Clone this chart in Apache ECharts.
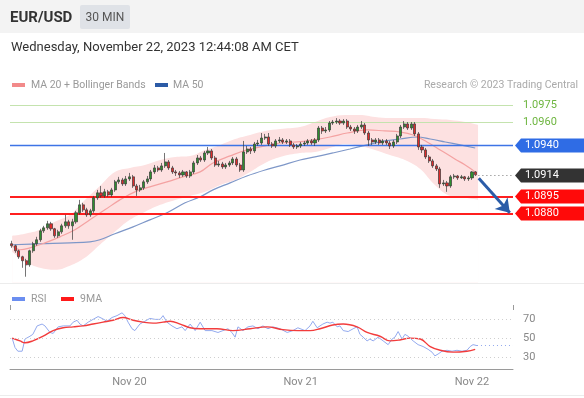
<!DOCTYPE html>
<html>
<head>
<meta charset="utf-8">
<script src="https://cdn.jsdelivr.net/npm/echarts@6/dist/echarts.min.js"></script>
<style>
  html, body { margin: 0; padding: 0; background: #fff; }
  #chart { width: 584px; height: 398px; }
</style>
</head>
<body>
<div id="chart"></div>
<script>
// 30 min candles, [open, close, low, high]
var candles = [
  [1.08532,1.08514,1.08496,1.08558],[1.08514,1.0847,1.08452,1.08523],[1.0847,1.08417,1.08399,1.08479],
  [1.08417,1.08382,1.0832,1.08426],[1.08382,1.08346,1.08241,1.08399],[1.08346,1.0847,1.08329,1.08479],
  [1.0847,1.08532,1.08452,1.08549],[1.08532,1.08567,1.08514,1.08593],[1.08567,1.08646,1.08549,1.08664],
  [1.08646,1.08672,1.08628,1.0869],[1.08672,1.08708,1.08655,1.08734],[1.08708,1.08664,1.08646,1.08725],
  [1.08664,1.08602,1.08584,1.08672],[1.08602,1.08637,1.08584,1.08655],[1.08637,1.0869,1.0862,1.08708],
  [1.0869,1.08725,1.08672,1.08787],[1.08725,1.0869,1.08664,1.08743],[1.0869,1.08725,1.08567,1.08752],
  [1.08725,1.08805,1.08708,1.08822],[1.08805,1.08875,1.08787,1.08919],[1.08875,1.08831,1.08813,1.08893],
  [1.08831,1.08787,1.08769,1.08849],[1.08787,1.08822,1.08769,1.0884],[1.08822,1.08937,1.08805,1.08954],
  [1.08937,1.08981,1.08919,1.09007],[1.08981,1.08954,1.08937,1.09042],[1.08954,1.0899,1.08937,1.09016],
  [1.0899,1.08963,1.08946,1.09007],[1.08963,1.09007,1.08946,1.09025],[1.09007,1.09078,1.0899,1.09095],
  [1.09078,1.09095,1.0906,1.09122],[1.09095,1.0906,1.09042,1.09113],[1.0906,1.09104,1.09042,1.0913],
  [1.09104,1.09122,1.09086,1.09157],[1.09122,1.09042,1.09025,1.09139],[1.09042,1.09007,1.08954,1.0906],
  [1.09007,1.09025,1.0899,1.09051],[1.09025,1.09078,1.09007,1.09095],[1.09078,1.09104,1.0906,1.0913],
  [1.09104,1.09166,1.09086,1.09183],[1.09166,1.09201,1.09148,1.09227],[1.09201,1.09183,1.09166,1.09219],
  [1.09183,1.09219,1.09166,1.09245],[1.09219,1.09254,1.09201,1.09333],[1.09254,1.09201,1.09183,1.09271],
  [1.09201,1.09166,1.09148,1.09219],[1.09166,1.09157,1.0913,1.09183],[1.09157,1.09139,1.09113,1.09174],
  [1.09139,1.09166,1.09122,1.09183],[1.09166,1.0913,1.09113,1.09174],[1.0913,1.09166,1.09113,1.09183],
  [1.09166,1.09245,1.09148,1.09263],[1.09245,1.09289,1.09227,1.09315],[1.09289,1.09271,1.09254,1.09307],
  [1.09271,1.09333,1.09254,1.09351],[1.09333,1.09351,1.09315,1.09386],[1.09351,1.09289,1.09271,1.09368],
  [1.09289,1.09227,1.0921,1.09307],[1.09227,1.09236,1.0921,1.09263],[1.09236,1.0921,1.09192,1.09254],
  [1.0921,1.09227,1.09192,1.09245],[1.09227,1.09245,1.0921,1.09263],[1.09245,1.0928,1.09227,1.09298],
  [1.0928,1.09227,1.0921,1.09298],[1.09227,1.09183,1.09166,1.09245],[1.09183,1.09342,1.09166,1.09439],
  [1.09342,1.09368,1.09324,1.09395],[1.09368,1.09351,1.09324,1.09386],[1.09351,1.09412,1.09333,1.0943],
  [1.09412,1.09421,1.09395,1.09448],[1.09421,1.09465,1.09404,1.09509],[1.09465,1.09474,1.09448,1.09501],
  [1.09474,1.09412,1.09395,1.09509],[1.09412,1.09395,1.09377,1.0943],[1.09395,1.09439,1.09377,1.09456],
  [1.09439,1.09448,1.09421,1.09474],[1.09448,1.0943,1.09412,1.09465],[1.0943,1.09439,1.09412,1.09456],
  [1.09439,1.09404,1.09386,1.09456],[1.09404,1.09386,1.09368,1.09421],[1.09386,1.09395,1.09368,1.09412],
  [1.09395,1.09412,1.09377,1.0943],[1.09412,1.09421,1.09395,1.09439],[1.09421,1.09439,1.09404,1.09456],
  [1.09439,1.09421,1.09404,1.09456],[1.09421,1.09448,1.09395,1.09465],[1.09448,1.09553,1.0943,1.09571],
  [1.09553,1.09527,1.09501,1.09571],[1.09527,1.09536,1.09509,1.09562],[1.09536,1.09597,1.09518,1.09615],
  [1.09597,1.09606,1.0958,1.09624],[1.09606,1.09615,1.09589,1.09641],[1.09615,1.09597,1.0958,1.09632],
  [1.09597,1.09615,1.0958,1.09632],[1.09615,1.09562,1.09545,1.09632],[1.09562,1.09545,1.09527,1.0958],
  [1.09545,1.09527,1.09501,1.09562],[1.09527,1.09562,1.09509,1.0958],[1.09562,1.0958,1.09545,1.09615],
  [1.0958,1.09509,1.09492,1.09597],[1.09509,1.09448,1.09395,1.09527],[1.09448,1.0943,1.09404,1.09465],
  [1.0943,1.09448,1.09412,1.09465],[1.09448,1.09421,1.09404,1.09465],[1.09421,1.09439,1.09404,1.09456],
  [1.09439,1.09421,1.09404,1.09456],[1.09421,1.09395,1.09368,1.09439],[1.09395,1.0943,1.09377,1.09448],
  [1.0943,1.09483,1.09412,1.09501],[1.09483,1.09562,1.09465,1.0958],[1.09562,1.09589,1.09545,1.09615],
  [1.09589,1.09553,1.09536,1.09606],[1.09553,1.09589,1.09536,1.09606],[1.09589,1.09501,1.09483,1.09606],
  [1.09501,1.09386,1.0936,1.09518],[1.09386,1.0936,1.09333,1.09404],[1.0936,1.09298,1.0928,1.09377],
  [1.09298,1.09263,1.09245,1.09315],[1.09263,1.09219,1.09201,1.0928],[1.09219,1.09192,1.09174,1.09236],
  [1.09192,1.0906,1.09025,1.0921],[1.0906,1.09069,1.09042,1.09095],[1.09069,1.09042,1.0899,1.09086],
  [1.09042,1.09122,1.09025,1.09139],[1.09122,1.0913,1.09104,1.09148],[1.0913,1.09113,1.09095,1.09139],
  [1.09113,1.09122,1.09104,1.09139],[1.09122,1.09104,1.09086,1.0913],[1.09104,1.09113,1.09086,1.0913],
  [1.09113,1.09166,1.09095,1.09174],[1.09166,1.0914,1.0913,1.09174]
];

// indicator lines, [candle index, value]
var ma20 = [[0.1,1.08514],[2.3,1.08479],[5.1,1.08496],[9.3,1.0854],[13.5,1.08593],[17.7,1.08655],[21.9,1.08743],
  [26.1,1.08831],[30.3,1.08919],[34.5,1.0899],[38.7,1.09034],[43.5,1.09078],[48,1.09122],[52.8,1.09166],
  [56.4,1.09245],[61.2,1.09307],[65.9,1.0936],[71,1.09395],[75.2,1.09421],[80,1.0943],[84.4,1.09448],
  [89.2,1.09474],[94,1.09509],[99.6,1.09536],[104.6,1.09527],[108.8,1.09518],[112.5,1.09492],[116.4,1.0943],
  [120.1,1.0936],[124.2,1.0928],[127.1,1.09227],[129.9,1.09166]];
var ma50 = [[0.1,1.08523],[7.9,1.08532],[16.3,1.0854],[21.9,1.08549],[24.7,1.08567],[28.9,1.0862],[34,1.08681],
  [38.7,1.08743],[43.5,1.08805],[48.6,1.08893],[52.8,1.08946],[56.4,1.09007],[61.2,1.09069],[65.9,1.0913],
  [71,1.09183],[75.2,1.09219],[80.8,1.09271],[85,1.09298],[90,1.09333],[94.8,1.09368],[99.6,1.09404],
  [104.6,1.09439],[108.8,1.09456],[113.6,1.09474],[117.3,1.09456],[121.5,1.0943],[125.7,1.09404],[129.9,1.09377]];
var bandUp = [[0.1,1.08602],[3.7,1.0862],[7.9,1.08655],[12.1,1.08725],[16.3,1.08787],[20.5,1.08919],[24.7,1.09042],
  [28.9,1.09166],[33.1,1.09201],[37.3,1.09227],[41.6,1.09271],[45.8,1.09298],[50,1.09307],[54.2,1.0936],
  [58.4,1.09404],[62.6,1.09456],[66.8,1.09492],[71,1.09527],[75.2,1.09545],[80.8,1.09562],[85,1.09606],
  [89.2,1.0965],[93.4,1.09668],[97.6,1.09668],[101.8,1.0965],[106,1.09641],[110.2,1.09641],[114.5,1.09641],
  [118.6,1.09632],[122.9,1.09624],[127.1,1.09606],[130.7,1.0958]];
var bandLow = [[0.1,1.08461],[3.7,1.08373],[7.9,1.0832],[12.1,1.08302],[16.3,1.08338],[20.5,1.08408],[24.7,1.08523],
  [28.9,1.08637],[33.1,1.08743],[37.3,1.08813],[41.6,1.08875],[45.8,1.08919],[50,1.08954],[54.2,1.0899],
  [58.4,1.09051],[62.6,1.09095],[66.8,1.09166],[71,1.09245],[75.2,1.09298],[80.8,1.09333],[85,1.09342],
  [89.2,1.09377],[93.4,1.09412],[97.6,1.09395],[101.8,1.0936],[106,1.09315],[110.2,1.09271],[114.5,1.09192],
  [118.6,1.09051],[122.9,1.08954],[127.1,1.08937],[130.7,1.08919]];
var rsi = [[0.1,50],[0.9,40],[1.7,36],[2.9,36],[3.7,49],[5.1,52],[5.9,54],[7.1,63],[8.5,65],[9.3,63],[10.7,56],
  [11.6,55],[13,62],[14.4,63],[16.3,63],[17.2,67],[18.3,69],[19.1,65],[20,63],[21.4,67],[22.8,70],[24.2,73],
  [25.3,71],[26.7,68],[28.1,72],[29.5,74],[30.9,77],[31.7,74],[32.6,67],[33.7,60],[34.5,58],[35.9,65],[37.3,68],
  [38.7,71],[40.2,70],[41.6,70],[42.4,74],[43.5,67],[44.9,63],[46.3,60],[47.7,62],[48.6,58],[50,65],[51.4,58],
  [52.8,67],[54.2,58],[56.1,58],[57.8,56],[59.2,58],[60.6,60],[61.7,56],[62.6,51],[63.4,62],[64.8,58],[66.2,62],
  [67.6,63],[69,60],[70.4,63],[71.8,60],[73.2,62],[75.2,60],[77.2,56],[78.8,58],[80.2,61],[82.2,58],[83.6,63],
  [84.4,68],[85.6,61],[86.4,63],[87.2,65],[88.4,67],[89.2,66],[90,67],[91.2,62],[92,63],[92.9,58],[94.3,57],
  [95.7,60],[96.8,62],[97.6,54],[98.5,51],[99.6,47],[100.4,49],[101.3,47],[102.7,51],[104.1,47],[105.5,43],
  [106.6,49],[107.4,51],[108.3,57],[109.4,49],[110.2,54],[111.1,52],[112.5,47],[113.9,43],[115.3,41],[116.7,38],
  [117.8,35],[118.6,31],[119.5,33],[120.6,36],[122,37],[123.4,36],[124.8,37],[126.2,36],[127.6,37],[128.5,41],
  [129.3,43],[130.4,42]];
var rsiMa = [[0.1,50],[2.3,47],[3.7,45],[5.9,47],[8.8,52],[11.6,58],[14.4,61],[17.2,62],[20,63],[22.8,65],[25.6,67],
  [28.4,69],[31.2,72],[34,69],[36.8,67],[39.6,66],[42.4,67],[44.4,68],[47.2,65],[50,61],[52.8,60],[57.5,60],
  [62,58],[66.8,60],[71.5,62],[76,59],[80.2,58],[83.6,58],[86.4,60],[90,64],[92.9,65],[96.8,62],[99.6,56],
  [103.2,52],[106,47],[108.8,48],[111.6,50],[114.5,49],[117.3,41],[120.1,37],[123.7,35],[127.6,36],[129.9,38]];

var levelsGreen = [1.0975, 1.0960];
var levelBlue = [1.0940];
var levelsRed = [1.0895, 1.0880];
var tagVals = [1.0940, 1.0914, 1.0895, 1.0880];
var tagColors = ['#2f6ce5', '#333333', '#ff0a0a', '#ff0a0a'];
var lastPrice = 1.0914;
var lastRsi = 42;
var rsiLevels = [70, 50, 30];
var tickIdx = [33, 81, 129];
var tickText = ['Nov 20', 'Nov 21', 'Nov 22'];

var nSlots = 141;
var xMin = -0.5, xMax = nSlots - 0.5;
var cats = [];
for (var i = 0; i < nSlots; i++) cats.push(String(i));
var font = 'Roboto, sans-serif';

var chart = echarts.init(document.getElementById('chart'));

function hLine(v, style, label) {
  return [
    { coord: [xMin, v], symbol: 'none', lineStyle: style, label: label || { show: false } },
    { coord: [xMax, v], symbol: 'none' }
  ];
}
var priceLines = []
  .concat(levelsGreen.map(function (v) {
    return hLine(v, { color: '#c4e3ae', width: 1, type: 'solid' },
      { show: true, position: 'end', distance: 10, color: '#6db53f', fontSize: 11, fontFamily: font,
        formatter: v.toFixed(4) });
  }))
  .concat(levelBlue.map(function (v) { return hLine(v, { color: '#3d74e6', width: 1.3, type: 'solid' }); }))
  .concat(levelsRed.map(function (v) { return hLine(v, { color: '#ff1f1f', width: 2, type: 'solid' }); }))
  .concat([
    [{ coord: [130.8, lastPrice], symbol: 'none', lineStyle: { color: '#777', width: 1, type: [1, 3] }, label: { show: false } },
     { coord: [xMax, lastPrice], symbol: 'none' }],
    [{ coord: [130.9, 1.0911], symbol: 'none', lineStyle: { color: '#2b5ca8', width: 3, type: 'solid' }, label: { show: false } },
     { coord: [139.6, 1.08805], symbol: 'arrow', symbolSize: 13 }]
  ]);

var rsiLines = rsiLevels.map(function (v) {
  return hLine(v, { color: '#cfcfcf', width: 1, type: [1, 3] },
    { show: true, position: 'end', distance: 10, color: '#888', fontSize: 11, fontFamily: font, formatter: String(v) });
}).concat([[
  { coord: [130.4, lastRsi], symbol: 'none', lineStyle: { color: '#92a9ee', width: 1, type: [1, 3] }, label: { show: false } },
  { coord: [xMax, lastRsi], symbol: 'none' }
]]);

var option = {
  animation: false,
  textStyle: { fontFamily: font },
  graphic: [
    { type: 'rect', shape: { x: 0, y: 0, width: 584, height: 33 }, style: { fill: '#f3f3f3' } },
    { type: 'text', style: { text: 'EUR/USD', x: 10, y: 18, font: 'bold 15px ' + font, fill: '#333', verticalAlign: 'middle' } },
    { type: 'rect', shape: { x: 80, y: 5, width: 50, height: 24, r: 2 }, style: { fill: '#dfe2e7' } },
    { type: 'text', style: { text: '30 MIN', x: 105, y: 18, font: '12px ' + font, fill: '#555', align: 'center', verticalAlign: 'middle' } },
    { type: 'text', style: { text: 'Wednesday, November 22, 2023 12:44:08 AM CET', x: 11, y: 48, font: '13px ' + font, fill: '#333', verticalAlign: 'middle' } },
    { type: 'rect', shape: { x: 12, y: 83, width: 13, height: 4 }, style: { fill: '#f28a8a' } },
    { type: 'text', style: { text: 'MA 20 + Bollinger Bands', x: 31, y: 85, font: '10.5px ' + font, fill: '#999', verticalAlign: 'middle' } },
    { type: 'rect', shape: { x: 155, y: 83, width: 13, height: 4 }, style: { fill: '#2c5ba6' } },
    { type: 'text', style: { text: 'MA 50', x: 173, y: 85, font: '10.5px ' + font, fill: '#999', verticalAlign: 'middle' } },
    { type: 'text', style: { text: 'Research \u00a9 2023 Trading Central', x: 578, y: 85, font: '10.5px ' + font, fill: '#aaa', align: 'right', verticalAlign: 'middle' } },
    { type: 'line', shape: { x1: 0, y1: 283.5, x2: 584, y2: 283.5 }, style: { stroke: '#ececec', lineWidth: 1 } },
    { type: 'line', shape: { x1: 0, y1: 395.5, x2: 584, y2: 395.5 }, style: { stroke: '#ececec', lineWidth: 1 } },
    { type: 'rect', shape: { x: 12, y: 297, width: 13, height: 4 }, style: { fill: '#6b8ef0' } },
    { type: 'text', style: { text: 'RSI', x: 31, y: 299, font: '10.5px ' + font, fill: '#999', verticalAlign: 'middle' } },
    { type: 'rect', shape: { x: 61, y: 297, width: 13, height: 4 }, style: { fill: '#ff1a1a' } },
    { type: 'text', style: { text: '9MA', x: 80, y: 299, font: '10.5px ' + font, fill: '#999', verticalAlign: 'middle' } }
  ],
  grid: [
    { left: 10, right: 71, top: 95.5, height: 187 },
    { left: 10, right: 71, top: 310, height: 59 }
  ],
  xAxis: [
    { type: 'category', gridIndex: 0, data: cats, show: false, boundaryGap: true },
    { type: 'value', gridIndex: 0, min: xMin, max: xMax, show: false },
    { type: 'category', gridIndex: 1, data: cats, boundaryGap: true,
      axisLine: { lineStyle: { color: '#9a9a9a', width: 1 } },
      axisTick: { show: false },
      axisLabel: { color: '#888', fontSize: 11, margin: 8,
        interval: function (idx) { return tickIdx.indexOf(idx) >= 0; },
        formatter: function (val, idx) { var k = tickIdx.indexOf(idx); return k >= 0 ? tickText[k] : ''; } },
      splitLine: { show: false } },
    { type: 'value', gridIndex: 1, min: xMin, max: xMax, interval: nSlots,
      axisLine: { show: false }, axisLabel: { show: false }, splitLine: { show: false },
      axisTick: { show: true, length: 5, lineStyle: { color: '#9a9a9a' } } }
  ],
  yAxis: [
    { type: 'value', gridIndex: 0, min: 1.0819, max: 1.0984, show: false },
    { type: 'value', gridIndex: 1, min: 17, max: 80, show: false }
  ],
  series: [
    { type: 'line', name: 'bandUp', xAxisIndex: 1, yAxisIndex: 0, data: bandUp, smooth: 0.4, symbol: 'none', z: 1,
      lineStyle: { width: 0 }, areaStyle: { color: '#fde1e1', opacity: 1, origin: 'start' } },
    { type: 'line', name: 'bandLow', xAxisIndex: 1, yAxisIndex: 0, data: bandLow, smooth: 0.4, symbol: 'none', z: 2,
      lineStyle: { width: 0 }, areaStyle: { color: '#ffffff', opacity: 1, origin: 'start' } },
    { type: 'line', name: 'MA 50', xAxisIndex: 1, yAxisIndex: 0, data: ma50, smooth: 0.4, symbol: 'none', z: 4,
      lineStyle: { color: '#7e97c8', width: 1.2 } },
    { type: 'line', name: 'MA 20', xAxisIndex: 1, yAxisIndex: 0, data: ma20, smooth: 0.4, symbol: 'none', z: 4,
      lineStyle: { color: '#f4a2a2', width: 1.2 } },
    { type: 'candlestick', xAxisIndex: 0, yAxisIndex: 0, data: candles, barWidth: '72%', z: 5,
      itemStyle: { color: '#2e8f2e', color0: '#df2b2b', borderColor: '#3a3a3a', borderColor0: '#3a3a3a', borderWidth: 0.7 } },
    { type: 'line', name: 'levels', xAxisIndex: 1, yAxisIndex: 0, data: [], z: 7,
      markLine: { silent: true, symbol: 'none', data: priceLines } },
    { type: 'custom', xAxisIndex: 1, yAxisIndex: 0, clip: false, z: 10,
      data: tagVals.map(function (v, i) { return [xMax, v, i]; }),
      renderItem: function (params, api) {
        var p = api.coord([api.value(0), api.value(1)]);
        var k = api.value(2);
        var x = p[0] + 2, y = Math.round(p[1]) + 0.5, h = 7, w = 75;
        return { type: 'group', children: [
          { type: 'polygon', shape: { points: [[x, y], [x + 6, y - h], [x + w, y - h], [x + w, y + h], [x + 6, y + h]] },
            style: { fill: tagColors[k] } },
          { type: 'text', style: { text: tagVals[k].toFixed(4), x: x + 10, y: y, fill: '#fff', font: '11px ' + font, verticalAlign: 'middle' } }
        ] };
      } },
    { type: 'line', name: 'RSI', xAxisIndex: 3, yAxisIndex: 1, data: rsi, symbol: 'none', z: 3,
      lineStyle: { color: '#92a9ee', width: 1 },
      markLine: { silent: true, symbol: 'none', data: rsiLines } },
    { type: 'line', name: '9MA', xAxisIndex: 3, yAxisIndex: 1, data: rsiMa, smooth: 0.4, symbol: 'none', z: 4,
      lineStyle: { color: '#f23c3c', width: 1.4 } }
  ]
};
chart.setOption(option);
</script>
</body>
</html>
